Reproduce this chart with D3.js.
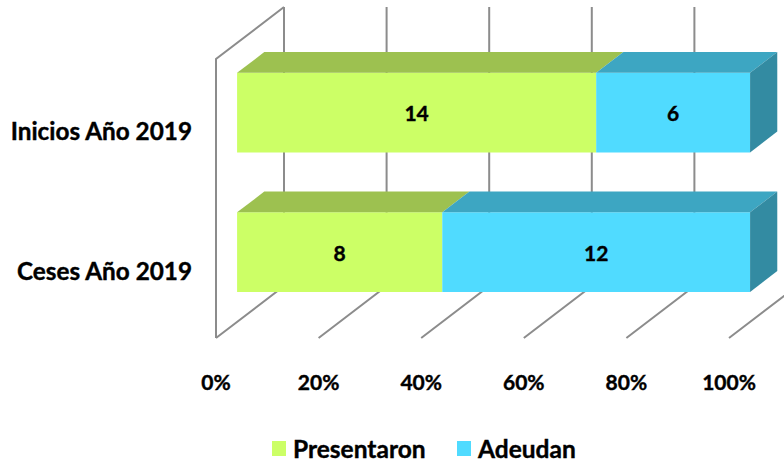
<!DOCTYPE html>
<html>
<head>
<meta charset="utf-8">
<script src="https://cdn.jsdelivr.net/npm/d3@7"></script>
<style>
  body { margin: 0; background: #fff; }
  text { font-family: Lato, "Open Sans", sans-serif; font-weight: 700; fill: #000; stroke: #000; stroke-width: 0.4px; }
</style>
</head>
<body>
<svg id="chart" width="784" height="464"></svg>
<script>
const categories = ['Inicios Año 2019', 'Ceses Año 2019'];
const seriesNames = ['Presentaron', 'Adeudan'];
const presentaron = [14, 8];
const adeudan = [6, 12];
const tickValues = [0, 0.2, 0.4, 0.6, 0.8, 1];

const frontColors = ['#ccff66', '#50dbff'];
const topColors = ['#9dc150', '#3da6c2'];
const sideColors = ['#7f9c40', '#338ba2'];

const svg = d3.select('#chart');

// oblique projection: front plane origin and depth vector
const x0 = 216, floorY = 338, wallTop = 59;
const depth = { dx: 68, dy: -52 };
const x = d3.scaleLinear().domain([0, 1]).range([x0, x0 + 513]);
const y = d3.scaleBand().domain(categories).range([wallTop, floorY])
    .paddingInner(0.43).paddingOuter(0.215);
const barZ = [0.31, 0.71]; // bar depth range as fraction of full depth

const P = (px, py, z) => [px + depth.dx * z, py + depth.dy * z];
const poly = pts => 'M' + pts.map(p => p.join(',')).join('L') + 'Z';

const grid = svg.append('g')
    .attr('fill', 'none')
    .attr('stroke', '#8c8c8c')
    .attr('stroke-width', 2);

// left wall
grid.append('path')
    .attr('d', 'M' + [P(x0, floorY, 0), P(x0, wallTop, 0), P(x0, wallTop, 1)].map(p => p.join(',')).join('L'));

// back wall verticals and floor lines
tickValues.forEach(t => {
    const b1 = P(x(t), wallTop, 1), b2 = P(x(t), floorY, 1), f = P(x(t), floorY, 0);
    grid.append('path').attr('d', `M${b1}L${b2}L${f}`);
});

// stacked bars
const rows = categories.map((c, i) => {
    const total = presentaron[i] + adeudan[i];
    const vals = [presentaron[i], adeudan[i]];
    let acc = 0;
    return vals.map((v, k) => {
        const seg = { cat: c, k, v, x0: acc / total, x1: (acc + v) / total, last: k === vals.length - 1 };
        acc += v;
        return seg;
    });
});

const bars = svg.append('g');
rows.forEach(segs => {
    segs.forEach(s => {
        const yt = y(s.cat), yb = yt + y.bandwidth();
        const xa = x(s.x0), xb = x(s.x1);
        const z0 = barZ[0], z1 = barZ[1];
        const g = bars.append('g');
        // front face
        g.append('path').attr('fill', frontColors[s.k])
            .attr('d', poly([P(xa, yt, z0), P(xb, yt, z0), P(xb, yb, z0), P(xa, yb, z0)]));
        // top face
        g.append('path').attr('fill', topColors[s.k])
            .attr('d', poly([P(xa, yt, z0), P(xb, yt, z0), P(xb, yt, z1), P(xa, yt, z1)]));
        if (s.last) {
            g.append('path').attr('fill', sideColors[s.k])
                .attr('d', poly([P(xb, yt, z0), P(xb, yt, z1), P(xb, yb, z1), P(xb, yb, z0)]));
        }
        const c = P((xa + xb) / 2, (yt + yb) / 2, z0);
        g.append('text')
            .attr('x', c[0]).attr('y', c[1])
            .attr('text-anchor', 'middle')
            .attr('dominant-baseline', 'central')
            .style('font-size', '21px')
            .text(s.v);
    });
});

// category labels
svg.append('g').selectAll('text')
    .data(categories)
    .join('text')
    .attr('x', 192)
    .attr('y', d => y(d) + y.bandwidth() / 2 + 2)
    .attr('text-anchor', 'end')
    .attr('dominant-baseline', 'central')
    .style('font-size', '24.3px')
    .text(d => d);

// tick labels
svg.append('g').selectAll('text')
    .data(tickValues)
    .join('text')
    .attr('x', d => x(d))
    .attr('y', 381)
    .attr('text-anchor', 'middle')
    .attr('dominant-baseline', 'central')
    .style('font-size', '21px')
    .text(d3.format('.0%'));

// legend
const legend = svg.append('g');
const legendX = [272, 457];
seriesNames.forEach((n, i) => {
    legend.append('rect')
        .attr('x', legendX[i]).attr('y', 441)
        .attr('width', 14).attr('height', 15)
        .attr('fill', frontColors[i]);
    legend.append('text')
        .attr('x', legendX[i] + 21).attr('y', 448)
        .attr('dominant-baseline', 'central')
        .style('font-size', '24.5px')
        .text(n);
});
</script>
</body>
</html>
